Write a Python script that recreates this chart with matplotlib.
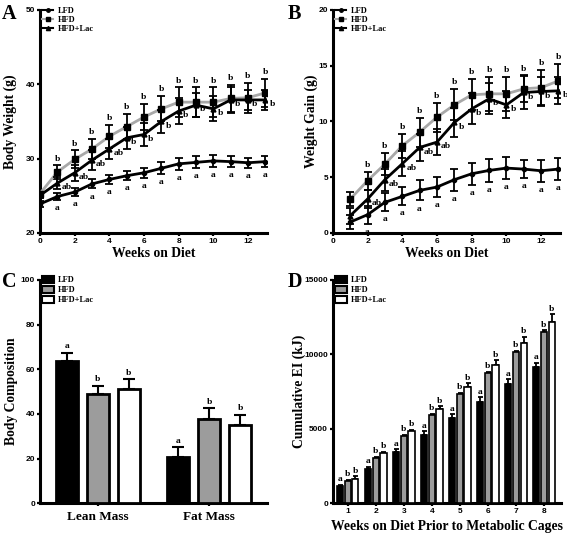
import numpy as np
import matplotlib
matplotlib.use("Agg")
import matplotlib.pyplot as plt
from matplotlib.lines import Line2D
from matplotlib.patches import Patch

# ---------------- data ----------------
weeks_a = list(range(0, 14))
lfd_bw = [23.9, 24.9, 25.5, 26.6, 27.2, 27.7, 28.1, 28.7, 29.3, 29.5, 29.7, 29.6, 29.45, 29.6]
lfd_bw_err = [0.4, 0.5, 0.5, 0.6, 0.6, 0.6, 0.7, 0.8, 0.8, 0.8, 0.8, 0.7, 0.7, 0.7]
hfd_bw = [25.3, 28.2, 29.9, 31.3, 33.0, 34.3, 35.6, 36.7, 37.6, 37.6, 37.6, 38.1, 38.2, 38.85]
hfd_bw_err = [0.3, 0.9, 1.2, 1.4, 1.5, 1.7, 1.8, 1.7, 2.0, 2.0, 2.0, 1.8, 2.0, 1.9]
lac_bw = [25.06, 26.7, 28.1, 29.8, 31.3, 32.8, 33.25, 35.0, 36.4, 37.2, 36.7, 37.9, 37.9, 37.9]
lac_bw_err = [0.4, 0.8, 1.1, 1.3, 1.3, 1.5, 1.6, 1.6, 1.7, 1.6, 1.7, 1.7, 1.4, 1.4]
lfd_bw_let = [""] + ["a"] * 13
hfd_bw_let = [""] + ["b"] * 13
lac_bw_let = [""] + ["ab"] * 4 + ["b"] * 9

weeks_b = list(range(1, 14))
lfd_wg = [0.98, 1.64, 2.75, 3.28, 3.82, 4.12, 4.78, 5.31, 5.61, 5.82, 5.73, 5.58, 5.73]
lfd_wg_err = [0.6, 0.8, 0.8, 0.8, 0.9, 0.9, 1.0, 1.0, 1.0, 1.0, 0.8, 1.0, 1.0]
hfd_wg = [3.04, 4.69, 6.18, 7.82, 9.04, 10.39, 11.49, 12.39, 12.48, 12.48, 12.93, 13.04, 13.64]
hfd_wg_err = [0.6, 0.8, 1.0, 1.1, 1.3, 1.3, 1.4, 1.4, 1.5, 1.5, 1.2, 1.6, 1.5]
lac_wg = [1.55, 3.04, 4.78, 6.21, 7.67, 8.15, 9.91, 11.13, 12.03, 11.49, 12.6, 12.69, 12.75]
lac_wg_err = [0.7, 0.8, 1.0, 1.1, 1.2, 1.2, 1.3, 1.4, 1.4, 1.2, 1.5, 1.3, 1.2]
lfd_wg_let = [""] + ["a"] * 12
hfd_wg_let = [""] + ["b"] * 12
lac_wg_let = [""] + ["ab"] * 5 + ["b"] * 7

comp_cats = ["Lean Mass", "Fat Mass"]
comp_lfd = [63.7, 20.7]
comp_lfd_err = [3.5, 4.3]
comp_hfd = [48.8, 37.8]
comp_hfd_err = [3.7, 4.7]
comp_lac = [51.2, 35.1]
comp_lac_err = [4.3, 4.4]
comp_lfd_let = ["a", "a"]
comp_hfd_let = ["b", "b"]
comp_lac_let = ["b", "b"]

ei_weeks = [1, 2, 3, 4, 5, 6, 7, 8]
ei_lfd = [1160, 2300, 3420, 4560, 5700, 6830, 7990, 9130]
ei_lfd_err = [100, 160, 220, 270, 290, 290, 340, 310]
ei_hfd = [1520, 3070, 4540, 5930, 7360, 8780, 10190, 11530]
ei_hfd_err = [60, 60, 60, 80, 60, 60, 60, 80]
ei_lac = [1660, 3360, 4830, 6360, 7790, 9290, 10790, 12200]
ei_lac_err = [150, 110, 110, 180, 270, 340, 400, 490]
ei_lfd_let = ["a"] * 8
ei_hfd_let = ["b"] * 8
ei_lac_let = ["b"] * 8

series_names = ["LFD", "HFD", "HFD+Lac"]

# ---------------- style ----------------
SERIF = "Liberation Serif"
SANS = "Liberation Sans"
GRAY = "#a8a8a8"
BARGRAY = "#9c9c9c"
SPINE_LW = 2.2
TICK_FS = 6.0

fig = plt.figure(figsize=(5.67, 5.34), dpi=100)

def style_axes(ax, xsans=True):
    for s in ["top", "right"]:
        ax.spines[s].set_visible(False)
    for s in ["left", "bottom"]:
        ax.spines[s].set_linewidth(SPINE_LW)
    ax.tick_params(direction="out", width=1.6, length=2.5, pad=1.0)
    labs = list(ax.get_yticklabels())
    if xsans:
        labs += list(ax.get_xticklabels())
    for lab in labs:
        lab.set_fontfamily(SANS)
        lab.set_fontweight("bold")
        lab.set_fontsize(TICK_FS)

def txt(ax, x, y, s, dx, dy, ha, va, size=6.8):
    if s:
        ax.annotate(s, xy=(x, y), xytext=(dx, dy), textcoords="offset points",
                    ha=ha, va=va, fontsize=size, fontfamily=SERIF, fontweight="bold")

def line_panel(ax, x, lfd, lfde, hfd, hfde, lac, lace, llet, hlet, aclet):
    ekw = dict(ecolor="black", elinewidth=1.3, capsize=2.8, capthick=1.3)
    ax.errorbar(x, hfd, yerr=hfde, color=GRAY, lw=2.0, marker="s", ms=4.5,
                mfc="black", mec="black", zorder=3, **ekw)
    ax.errorbar(x, lac, yerr=lace, color="black", lw=2.0, marker="^", ms=3.5,
                mfc="black", mec="black", zorder=4, **ekw)
    ax.errorbar(x, lfd, yerr=lfde, color="black", lw=2.0, marker="o", ms=3.0,
                mfc="black", mec="black", zorder=4, **ekw)
    for i, xi in enumerate(x):
        txt(ax, xi, hfd[i] + hfde[i], hlet[i], 0, 2.0, "center", "bottom")
        txt(ax, xi, lfd[i] - lfde[i], llet[i], 0, -3.0, "center", "top")
        txt(ax, xi, lac[i], aclet[i], 3.0, -3.0, "left", "center")
    handles = [
        Line2D([], [], color="black", lw=1.5, marker="o", ms=2.5),
        Line2D([], [], color=GRAY, lw=1.5, marker="s", ms=3, mfc="black", mec="black"),
        Line2D([], [], color="black", lw=1.5, marker="^", ms=3),
    ]
    ax.legend(handles, series_names, loc="upper left", bbox_to_anchor=(0.0, 1.025),
              frameon=False, prop=dict(family=SERIF, weight="bold", size=6),
              handlelength=1.3, handletextpad=0.6, labelspacing=0.15, borderpad=0.1,
              borderaxespad=0.2)

def set_labels(ax, xl, yl, ylx, xly):
    ax.set_xlabel(xl, fontfamily=SERIF, fontweight="bold", fontsize=9.8)
    ax.set_ylabel(yl, fontfamily=SERIF, fontweight="bold", fontsize=9.8)
    ax.yaxis.set_label_coords(ylx, 0.5)
    ax.xaxis.set_label_coords(0.5, xly)

# ---------------- Panel A ----------------
axA = fig.add_axes([0.0705, 0.5637, 0.4005, 0.4176])
line_panel(axA, weeks_a, lfd_bw, lfd_bw_err, hfd_bw, hfd_bw_err, lac_bw, lac_bw_err,
           lfd_bw_let, hfd_bw_let, lac_bw_let)
axA.set_xlim(0, 13.1)
axA.set_ylim(20, 50)
axA.set_xticks(range(0, 13, 2))
axA.set_yticks([20, 30, 40, 50])
style_axes(axA)
set_labels(axA, "Weeks on Diet", "Body Weight (g)", -0.10, -0.063)

# ---------------- Panel B ----------------
axB = fig.add_axes([0.587, 0.5637, 0.401, 0.4176])
line_panel(axB, weeks_b, lfd_wg, lfd_wg_err, hfd_wg, hfd_wg_err, lac_wg, lac_wg_err,
           lfd_wg_let, hfd_wg_let, lac_wg_let)
axB.set_xlim(0, 13.1)
axB.set_ylim(0, 20)
axB.set_xticks(range(0, 13, 2))
axB.set_yticks([0, 5, 10, 15, 20])
style_axes(axB)
set_labels(axB, "Weeks on Diet", "Weight Gain (g)", -0.065, -0.063)

# ---------------- Panel C ----------------
axC = fig.add_axes([0.0705, 0.0575, 0.4005, 0.4182])
xc = np.arange(len(comp_cats))
off = 0.278
w = 0.195
ekw = dict(ecolor="black", elinewidth=1.5, capsize=4, capthick=1.5)
for vals, errs, lets, col, dx in [(comp_lfd, comp_lfd_err, comp_lfd_let, "black", -off),
                                  (comp_hfd, comp_hfd_err, comp_hfd_let, BARGRAY, 0),
                                  (comp_lac, comp_lac_err, comp_lac_let, "white", off)]:
    axC.bar(xc + dx, vals, width=w, color=col, edgecolor="black", linewidth=2.0, zorder=3)
    axC.errorbar(xc + dx, vals, yerr=[np.zeros(len(vals)), errs], fmt="none", zorder=2, **ekw)
    for i in range(len(vals)):
        txt(axC, xc[i] + dx, vals[i] + errs[i], lets[i], 0, 2.0, "center", "bottom")
axC.set_xlim(-0.52, 1.52)
axC.set_ylim(0, 100)
axC.set_yticks(range(0, 101, 20))
axC.set_xticks(xc)
axC.set_xticklabels(comp_cats, fontfamily=SERIF, fontweight="bold", fontsize=9.5)
style_axes(axC, xsans=False)
axC.tick_params(axis="x", pad=3)
axC.set_ylabel("Body Composition", fontfamily=SERIF, fontweight="bold", fontsize=9.8)
axC.yaxis.set_label_coords(-0.097, 0.5)
hC = [Patch(facecolor=c, edgecolor="black", linewidth=1.5) for c in ["black", BARGRAY, "white"]]
axC.legend(hC, series_names, loc="upper left", bbox_to_anchor=(0.0, 1.03),
           frameon=False, prop=dict(family=SERIF, weight="bold", size=6),
           handlelength=1.4, handleheight=0.9, handletextpad=0.5, labelspacing=0.2,
           borderpad=0.1, borderaxespad=0.2)

# ---------------- Panel D ----------------
axD = fig.add_axes([0.587, 0.0575, 0.402, 0.4182])
xd = np.array(ei_weeks, dtype=float)
offd = 0.275
wd = 0.22
ekwd = dict(ecolor="black", elinewidth=1.3, capsize=1.8, capthick=1.3)
for vals, errs, lets, col, dx in [(ei_lfd, ei_lfd_err, ei_lfd_let, "black", -offd),
                                  (ei_hfd, ei_hfd_err, ei_hfd_let, BARGRAY, 0),
                                  (ei_lac, ei_lac_err, ei_lac_let, "white", offd)]:
    axD.bar(xd + dx, vals, width=wd, color=col, edgecolor="black", linewidth=1.2, zorder=3)
    axD.errorbar(xd + dx, vals, yerr=[np.zeros(len(vals)), errs], fmt="none", zorder=2, **ekwd)
    for i in range(len(vals)):
        txt(axD, xd[i] + dx, vals[i] + errs[i], lets[i], 0, 1.0, "center", "bottom")
axD.set_xlim(0.47, 8.6)
axD.set_ylim(0, 15000)
axD.set_yticks([0, 5000, 10000, 15000])
axD.set_xticks(ei_weeks)
style_axes(axD)
set_labels(axD, "Weeks on Diet Prior to Metabolic Cages", "Cumulative EI (kJ)", -0.118, -0.076)
axD.legend(hC, series_names, loc="upper left", bbox_to_anchor=(0.0, 1.03),
           frameon=False, prop=dict(family=SERIF, weight="bold", size=6),
           handlelength=1.4, handleheight=0.9, handletextpad=0.5, labelspacing=0.2,
           borderpad=0.1, borderaxespad=0.2)

# ---------------- panel letters ----------------
for s, x, y in [("A", 0.004, 0.992), ("B", 0.507, 0.992), ("C", 0.004, 0.49), ("D", 0.507, 0.49)]:
    fig.text(x, y, s, fontfamily=SERIF, fontweight="bold", fontsize=14.5, ha="left", va="top")

fig.savefig("out.png", dpi=100)
